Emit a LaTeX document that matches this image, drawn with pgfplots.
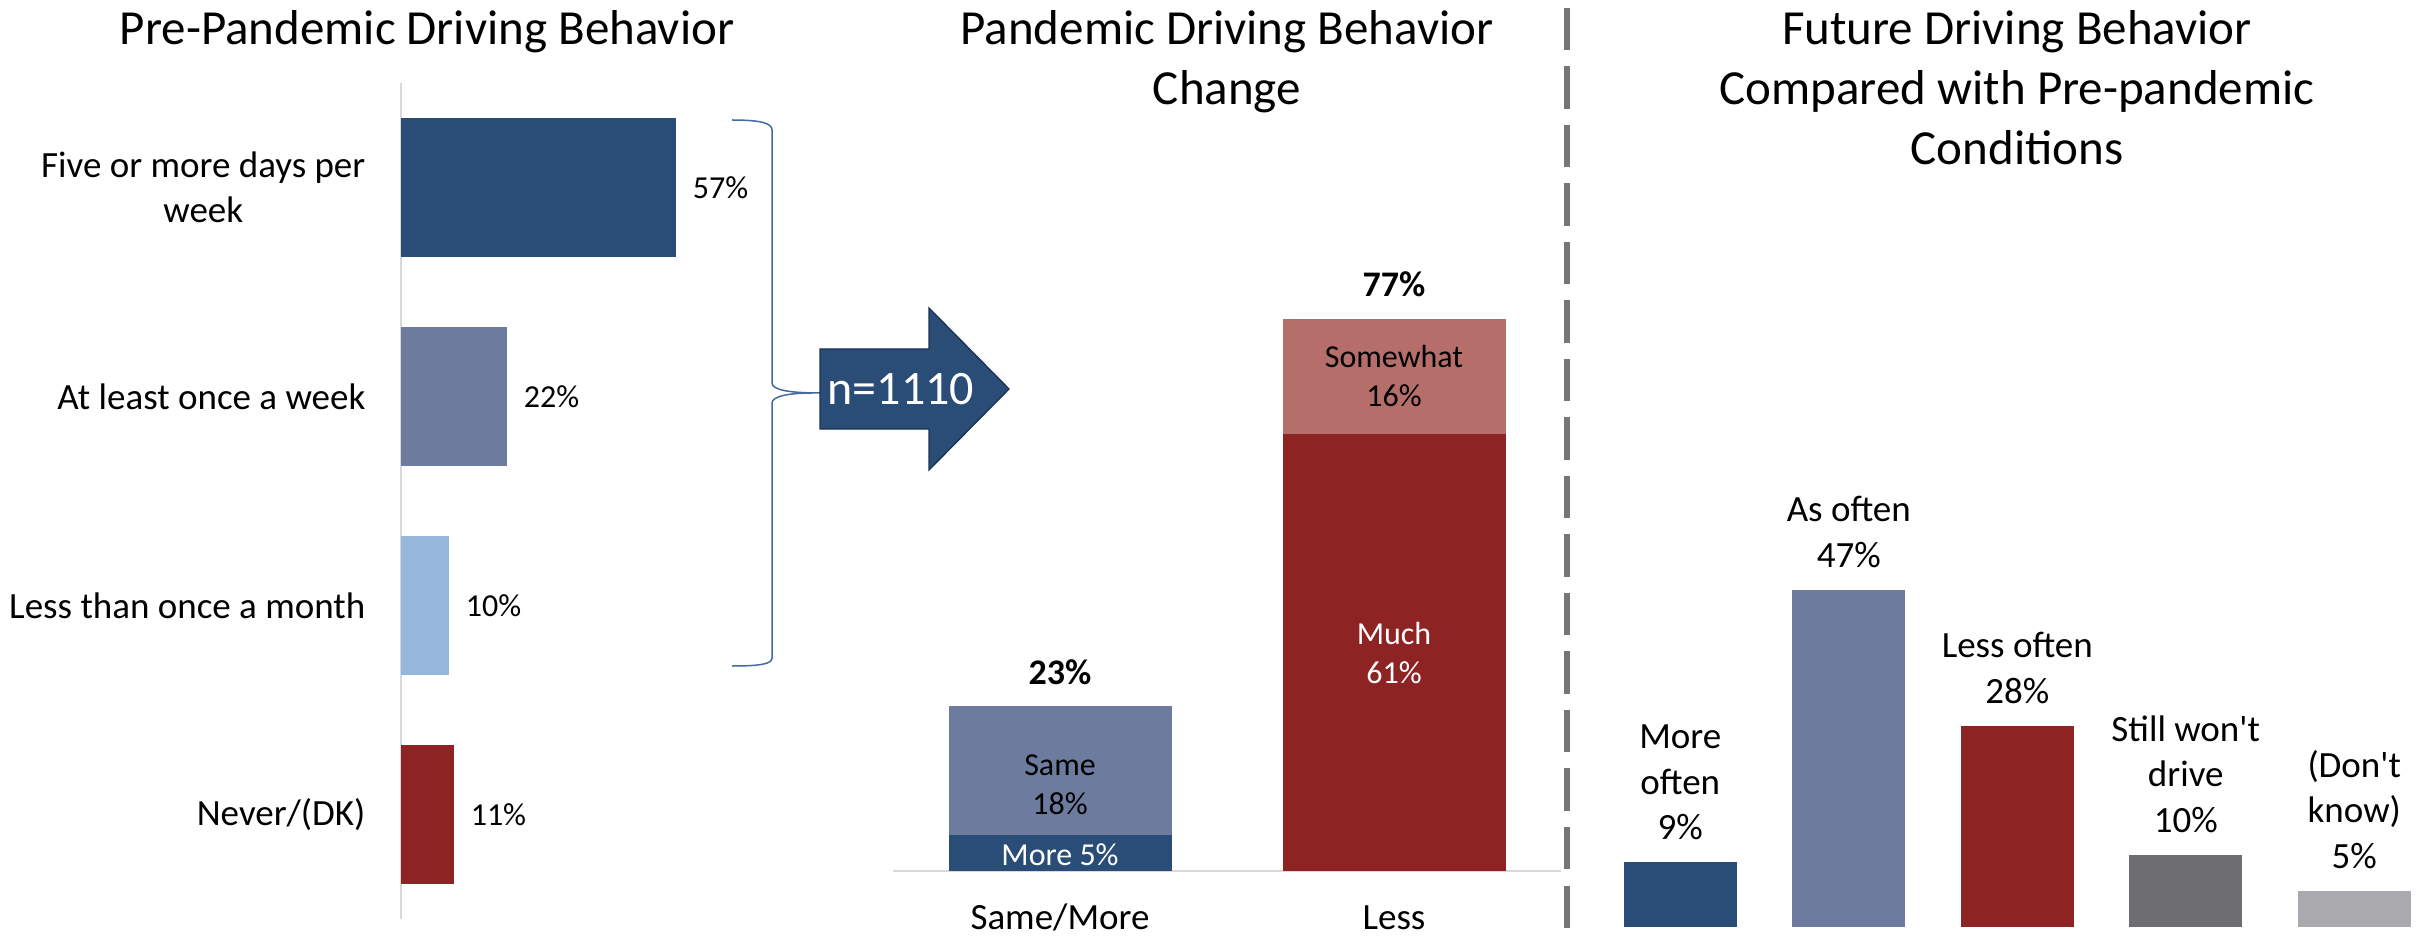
\documentclass[border=0pt]{standalone}
\usepackage{pgfplots}
\pgfplotsset{compat=1.18}
\usepackage{fontspec}
\setmainfont{Carlito}
\definecolor{cDB}{RGB}{41,77,118}
\definecolor{cMB}{RGB}{109,123,158}
\definecolor{cLB}{RGB}{149,183,219}
\definecolor{cDR}{RGB}{142,35,35}
\definecolor{cPR}{RGB}{181,110,106}
\definecolor{cG}{RGB}{110,110,114}
\definecolor{cLG}{RGB}{170,170,174}
\definecolor{cAx}{RGB}{217,217,217}
\definecolor{cDash}{RGB}{118,118,118}
\definecolor{cBrace}{RGB}{68,105,160}
\definecolor{cArrEdge}{RGB}{28,50,82}
\newcommand{\fL}{\fontsize{11.1}{13.6}\selectfont}
\newcommand{\fS}{\fontsize{9.6}{11.7}\selectfont}
\newcommand{\fT}{\fontsize{14.7}{18}\selectfont}
\pgfplotsset{/pgf/number format/assume math mode=true}
\begin{document}
\begin{tikzpicture}[x=0.3pt,y=-0.3pt]
\path[use as bounding box] (0,0) rectangle (2430,938);
% titles
\node[font=\fT, align=center, anchor=north, inner sep=0pt] at (427,9.5) {Pre-Pandemic Driving Behavior};
\node[font=\fT, align=center, anchor=north, inner sep=0pt] at (1227,9.5) {Pandemic Driving Behavior\\Change};
\node[font=\fT, align=center, anchor=north, inner sep=0pt] at (2017,9.5) {Future Driving Behavior\\Compared with Pre-pandemic\\Conditions};
% divider
\draw[cDash, line width=1.65pt, dash pattern=on 12.75pt off 4.8pt] (1567,8) -- (1567,938);
% brace
\draw[cBrace, line width=0.45pt] (732,120) .. controls (760,120) and (772,123) .. (772,130) -- (772,383) .. controls (772,390) and (790,393) .. (820,393);
\draw[cBrace, line width=0.45pt] (812,393) .. controls (790,393) and (772,396) .. (772,403) -- (772,658) .. controls (772,664) and (760,666) .. (732,666);
% arrow
\draw[cArrEdge, line width=0.4pt, fill=cDB] (820,349) -- (929,349) -- (929,308) -- (1009,389) -- (929,470) -- (929,429) -- (820,429) -- cycle;
\node[font=\fontsize{14.4}{17}\selectfont, text=white, inner sep=0pt] at (901,389) {n=1110};

% left panel
\begin{axis}[
  at={(120.3pt,-24.9pt)}, anchor=north west,
  x=1.449pt, y=62.7pt, y dir=reverse,
  xmin=0, xmax=60, ymin=-0.5, ymax=3.5,
  xbar, bar width=41.8pt, bar shift=0pt,
  axis x line=none, axis y line*=left,
  y axis line style={draw=cAx, line width=0.6pt, -},
  ytick={0,1,2,3},
  yticklabels={{Five or more days per\\week},{At least once a week},{Less than once a month},{Never/(DK)}},
  yticklabel style={align=center, font=\fL, anchor=east, inner sep=0pt, xshift=-10.5pt},
  major tick length=0pt, ytick style={draw=none},
  nodes near coords={\pgfmathprintnumber{\pgfplotspointmeta}\%},
  every node near coord/.append style={font=\fS, anchor=west, inner sep=0pt, xshift=4.8pt},
  clip=false,
]
\addplot[fill=cDB, draw=none] coordinates {(57,0)};
\addplot[fill=cMB, draw=none] coordinates {(22,1)};
\addplot[fill=cLB, draw=none] coordinates {(10,2)};
\addplot[fill=cDR, draw=none] coordinates {(11,3)};
\end{axis}

% middle panel
\begin{axis}[
  at={(267.9pt,-261.3pt)}, anchor=south west,
  x=100.2pt, y=2.151pt,
  xmin=-0.5, xmax=1.5, ymin=0, ymax=85,
  ybar stacked, bar width=66.9pt,
  axis y line=none, axis x line*=bottom,
  x axis line style={draw=cAx, line width=0.45pt, -},
  xtick={0,1}, xticklabels={Same/More, Less},
  xticklabel style={font=\fL, anchor=base, inner sep=0pt, yshift=-17.7pt},
  major tick length=0pt, xtick style={draw=none},
  clip=false,
]
\addplot[fill=cDB, draw=none] coordinates {(0,5) (1,0)};
\addplot[fill=cMB, draw=none] coordinates {(0,18) (1,0)};
\addplot[fill=cDR, draw=none] coordinates {(0,0) (1,61)};
\addplot[fill=cPR, draw=none] coordinates {(0,0) (1,16)};
\coordinate (lMore) at (axis cs:0,2.3);
\coordinate (lSame) at (axis cs:0,12);
\coordinate (lMuch) at (axis cs:1,30.4);
\coordinate (lSome) at (axis cs:1,69);
\coordinate (tA) at (axis cs:0,23);
\coordinate (tB) at (axis cs:1,77);
\end{axis}
\node[font=\fS, text=white, inner sep=0pt] at (lMore) {More 5\%};
\node[font=\fS, align=center, inner sep=0pt] at (lSame) {Same\\18\%};
\node[font=\fS, align=center, text=white, inner sep=0pt] at (lMuch) {Much\\61\%};
\node[font=\fS, align=center, inner sep=0pt] at (lSome) {Somewhat\\16\%};
\node[font=\fontsize{10.8}{13}\selectfont\bfseries, anchor=base, inner sep=0pt, yshift=6.6pt] at (tA) {23\%};
\node[font=\fontsize{10.8}{13}\selectfont\bfseries, anchor=base, inner sep=0pt, yshift=6.6pt] at (tB) {77\%};

% right panel
\begin{axis}[
  at={(478.8pt,-278.1pt)}, anchor=south west,
  x=50.55pt, y=2.151pt,
  xmin=-0.5, xmax=4.45, ymin=0, ymax=85,
  ybar, bar width=33.9pt, bar shift=0pt,
  hide axis,
  clip=false,
  every node near coord/.append style={font=\fL, align=center, anchor=south, inner sep=0pt, yshift=6.6pt},
]
\addplot[fill=cDB, draw=none, nodes near coords={More\\often\\\pgfmathprintnumber{\pgfplotspointmeta}\%}] coordinates {(0,9)};
\addplot[fill=cMB, draw=none, nodes near coords={As often\\\pgfmathprintnumber{\pgfplotspointmeta}\%}] coordinates {(1,47)};
\addplot[fill=cDR, draw=none, nodes near coords={Less often\\\pgfmathprintnumber{\pgfplotspointmeta}\%}] coordinates {(2,28)};
\addplot[fill=cG, draw=none, nodes near coords={Still won\textquotesingle t\\drive\\\pgfmathprintnumber{\pgfplotspointmeta}\%}] coordinates {(3,10)};
\addplot[fill=cLG, draw=none, nodes near coords={(Don\textquotesingle t\\know)\\\pgfmathprintnumber{\pgfplotspointmeta}\%}] coordinates {(4,5)};
\end{axis}
\end{tikzpicture}
\end{document}
